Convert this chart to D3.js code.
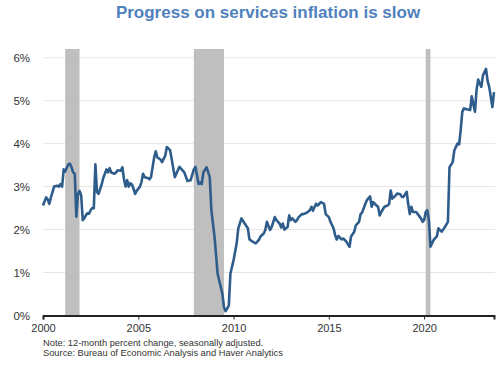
<!DOCTYPE html>
<html><head><meta charset="utf-8">
<script src="https://cdn.jsdelivr.net/npm/d3@7"></script>
<style>body{margin:0;background:#fff}svg{display:block}</style>
</head><body>
<svg id="c" width="500" height="365"></svg>
<script>
const months = ["2000-01","2000-03","2000-04","2000-05","2000-06","2000-08","2000-10","2000-11","2000-12",
"2001-01","2001-02","2001-03","2001-05","2001-06","2001-07","2001-08","2001-09","2001-10","2001-11","2001-12",
"2002-01","2002-02","2002-03","2002-04","2002-05","2002-06","2002-07","2002-08","2002-09","2002-10","2002-11","2002-12",
"2003-02","2003-03","2003-05","2003-06","2003-07","2003-08","2003-10","2003-11","2003-12",
"2004-02","2004-03","2004-04","2004-05","2004-06","2004-07","2004-08","2004-09","2004-10","2004-11","2004-12",
"2005-02","2005-03","2005-04","2005-05","2005-07","2005-08","2005-09","2005-11","2005-12",
"2006-01","2006-03","2006-04","2006-06","2006-07","2006-09","2006-10","2006-12",
"2007-03","2007-06","2007-08","2007-10","2007-12",
"2008-01","2008-03","2008-04","2008-05","2008-06","2008-08","2008-10","2008-11",
"2009-01","2009-03","2009-06","2009-07","2009-08","2009-10","2009-11",
"2010-01","2010-03","2010-04","2010-06","2010-08","2010-10","2010-11",
"2011-01","2011-03","2011-05","2011-06","2011-08","2011-09","2011-10","2011-12",
"2012-01","2012-03","2012-04","2012-06","2012-07","2012-08","2012-09","2012-11","2012-12",
"2013-01","2013-02","2013-04","2013-05","2013-06","2013-08","2013-09","2013-11",
"2014-01","2014-02","2014-03","2014-05","2014-06","2014-08","2014-10","2014-11",
"2015-01","2015-02","2015-04","2015-05","2015-06","2015-07","2015-09","2015-10","2015-11","2015-12",
"2016-02","2016-03","2016-05","2016-06","2016-08","2016-09","2016-10","2016-12",
"2017-01","2017-03","2017-04","2017-05","2017-07","2017-08","2017-09","2017-10","2017-12",
"2018-02","2018-03","2018-04","2018-05","2018-07","2018-08","2018-10","2018-11","2018-12",
"2019-02","2019-03","2019-04","2019-05","2019-06","2019-08","2019-09","2019-11","2019-12",
"2020-01","2020-02","2020-03","2020-04","2020-05","2020-07","2020-09","2020-10","2020-12",
"2021-01","2021-02","2021-04","2021-05","2021-07","2021-08","2021-10","2021-11","2021-12",
"2022-01","2022-02","2022-04","2022-06","2022-07","2022-09","2022-10","2022-11",
"2023-01","2023-02","2023-04","2023-05","2023-06","2023-08","2023-09"];
const values = [2.56,2.75,2.70,2.60,2.75,3.00,3.02,3.00,3.06,
3.00,3.40,3.35,3.52,3.53,3.45,3.33,3.30,2.30,2.83,2.90,
2.80,2.22,2.26,2.33,2.38,2.37,2.45,2.50,2.50,3.52,2.87,2.83,
3.06,3.20,3.40,3.33,3.43,3.33,3.30,3.33,3.38,
3.37,3.45,3.17,3.00,3.15,3.00,3.08,3.05,2.95,2.83,2.90,
3.00,3.10,3.30,3.22,3.20,3.17,3.22,3.68,3.82,
3.68,3.63,3.57,3.72,3.92,3.85,3.65,3.22,
3.46,3.33,3.13,3.15,3.40,
3.46,3.06,3.10,3.06,3.33,3.45,3.22,2.45,
1.83,0.97,0.50,0.19,0.10,0.23,0.97,
1.29,1.68,2.03,2.26,2.14,2.03,1.77,
1.72,1.68,1.76,1.84,1.91,1.99,2.18,1.99,
2.06,2.29,2.22,2.14,2.05,2.14,2.00,2.06,2.33,
2.22,2.26,2.18,2.22,2.29,2.36,2.36,2.39,
2.45,2.53,2.44,2.60,2.56,2.64,2.60,2.36,
2.29,2.18,2.03,1.87,1.77,1.85,1.77,1.79,1.76,1.72,
1.60,1.84,1.95,2.10,2.18,2.36,2.40,2.60,
2.69,2.77,2.53,2.64,2.56,2.53,2.33,2.41,2.53,
2.56,2.60,2.91,2.72,2.79,2.84,2.82,2.76,2.76,
2.88,2.60,2.36,2.53,2.41,2.41,2.36,2.26,2.18,
2.22,2.41,2.45,2.22,1.60,1.76,1.84,2.03,1.95,
2.00,2.06,2.18,3.45,3.57,3.84,4.00,3.98,4.31,
4.74,4.82,4.80,4.78,5.10,4.74,5.24,5.49,
5.32,5.59,5.74,5.46,5.32,4.85,5.20];
const recessionStarts = ["2001-03","2007-12","2020-02"];
const recessionEnds   = ["2001-11","2009-06","2020-04"];
const yTicks = [0,1,2,3,4,5,6];
const xTickYears = [2000,2005,2010,2015,2020];
const title = "Progress on services inflation is slow";
const notes = ["Note: 12-month percent change, seasonally adjusted.",
               "Source: Bureau of Economic Analysis and Haver Analytics"];

const parse = d3.timeParse("%Y-%m");
const data = months.map((m,i)=>({date:parse(m), value:values[i]}));
const svg = d3.select("#c");
const font = "'Liberation Sans', Arial, sans-serif";

const x = d3.scaleTime().domain([parse("2000-01"), parse("2023-09")]).range([43, 494]);
const y = d3.scaleLinear().domain([0,6]).range([315.5, 57.7]);

// gridlines
svg.append("g").selectAll("line").data(yTicks.filter(d=>d>0)).join("line")
  .attr("x1", 43).attr("x2", 495)
  .attr("y1", d=>y(d)).attr("y2", d=>y(d))
  .attr("stroke", "#e6e6e6").attr("stroke-width", 1);

// recession bands
svg.append("g").selectAll("rect").data(recessionStarts.map((s,i)=>[parse(s), d3.timeMonth.offset(parse(recessionEnds[i]),1)])).join("rect")
  .attr("x", d=>x(d[0])).attr("width", d=>x(d[1])-x(d[0]))
  .attr("y", 49).attr("height", y(0)-49)
  .attr("fill", "#bfbfbf");

// y labels
svg.append("g").selectAll("text").data(yTicks).join("text")
  .attr("x", 30).attr("y", d=>y(d)+4)
  .attr("text-anchor","end").attr("font-family",font).attr("font-size","11.5px").attr("fill","#333")
  .text(d=>d+"%");

// x axis
const xAxis = d3.axisBottom(x).tickValues(xTickYears.map(yv=>new Date(yv,0,1)))
  .tickFormat(d3.timeFormat("%Y")).tickSizeOuter(0).tickSize(4);
const gx = svg.append("g").attr("transform",`translate(0,${y(0)})`).call(xAxis);
gx.select(".domain").attr("stroke","#222").attr("stroke-width",2);
gx.selectAll(".tick line").attr("stroke","#222").attr("stroke-width",1);
gx.selectAll(".tick text").attr("font-family",font).attr("font-size","11px").attr("fill","#333").attr("dy","0.9em");

// line
svg.append("path").datum(data)
  .attr("d", d3.line().x(d=>x(d.date)).y(d=>y(d.value)))
  .attr("fill","none").attr("stroke","#2e5d8c").attr("stroke-width",2.6)
  .attr("stroke-linejoin","round");

// title
svg.append("text").attr("x",268).attr("y",18).attr("text-anchor","middle")
  .attr("font-family",font).attr("font-size","17px").attr("font-weight","bold").attr("fill","#4f81bd")
  .text(title);

// notes
svg.append("g").selectAll("text").data(notes).join("text")
  .attr("x",43).attr("y",(d,i)=>346+i*10)
  .attr("font-family",font).attr("font-size","9.3px").attr("fill","#333")
  .text(d=>d);
</script>
</body></html>
